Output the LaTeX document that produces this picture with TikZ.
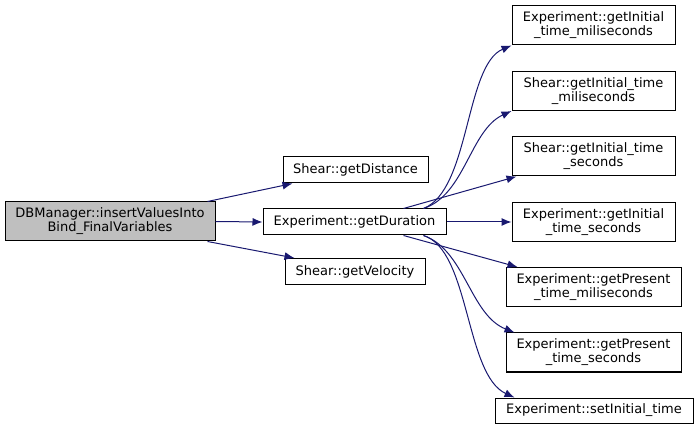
\documentclass[tikz,border=0pt]{standalone}
\usepackage{fontspec}
\setmainfont{DejaVu Sans}
\usepackage{tikz}
\usetikzlibrary{arrows.meta}
\definecolor{midblue}{HTML}{191970}

\begin{document}
\begin{tikzpicture}[x=1pt, y=-1pt, ->, >={Latex[length=10pt, width=8pt]}, line width=1pt,
	fn/.style={draw=black, rectangle, inner sep=0pt, align=center, font=\fontsize{13}{14}\selectfont, minimum height=26},
	caller/.style={fn, fill=gray!50},
	call/.style={draw=midblue}]
		\useasboundingbox (0,0) rectangle (699,430);
		
		\node[caller, minimum width=210, minimum height=39] (0) at (110,221.5) {DBManager::insertValuesInto\\Bind\_FinalVariables};
		
		\node[fn, minimum width=145] (1) at (355.5,170) {Shear::getDistance};
		\node[fn, minimum width=183] (2) at (354.5,222) {Experiment::getDuration};
		\node[fn, minimum width=140] (3) at (355,271.5) {Shear::getVelocity};
		
		\node[fn, minimum width=163, minimum height=39] (4) at (593.5,25.5) {Experiment::getInitial\\\_time\_miliseconds};
		\node[fn, minimum width=163, minimum height=39] (5) at (593.5,91) {Shear::getInitial\_time\\\_miliseconds};
		\node[fn, minimum width=163, minimum height=39] (6) at (593.5,156.5) {Shear::getInitial\_time\\\_seconds};
		\node[fn, minimum width=163, minimum height=39] (7) at (593.5,222) {Experiment::getInitial\\\_time\_seconds};
		\node[fn, minimum width=175, minimum height=39] (8) at (593.5,287) {Experiment::getPresent\\\_time\_miliseconds};
		\node[fn, minimum width=175, minimum height=39] (9) at (593.5,352.5) {Experiment::getPresent\\\_time\_seconds};
		\node[fn, minimum width=198, minimum height=25] (10) at (594,410.5) {Experiment::setInitial\_time};
		
		\draw[call] ([xshift=-8]0.north east) -- ([xshift=10]1.south west);
		\draw[call] (0.east) -- (2.west);
		\draw[call] ([xshift=-8]0.south east) -- ([xshift=10]3.north west);
		
		\draw[call] ([xshift=-23]2.north east) .. controls (470,190) and (465,65) .. (4.south west);
		\draw[call] ([xshift=-23]2.north east) .. controls (465,195) and (470,130) .. (5.south west);
		\draw[call] ([xshift=-43]2.north east) -- ([xshift=5]6.south west);
		\draw[call] (2.east) -- (7.west);
		\draw[call] ([xshift=-43]2.south east) -- ([xshift=12]8.north west);
		\draw[call] ([xshift=-23]2.south east) .. controls (465,250) and (470,315) .. ([xshift=9]9.north west);
		\draw[call] ([xshift=-23]2.south east) .. controls (470,250) and (465,375) .. ([xshift=20]10.north west);
		
	\end{tikzpicture}
\end{document}
